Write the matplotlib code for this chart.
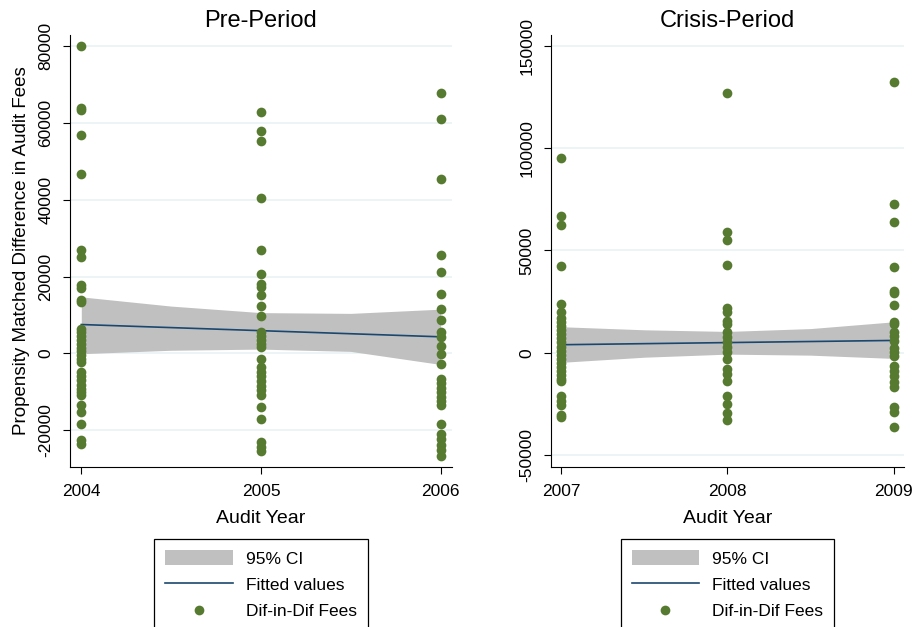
import matplotlib
matplotlib.use("Agg")
import matplotlib.pyplot as plt
from matplotlib.patches import Patch
from matplotlib.lines import Line2D

plt.rcParams['font.family'] = ['Liberation Sans', 'DejaVu Sans']

dot_color = '#567a2f'
line_color = '#1a476f'
ci_color = '#c0c0c0'
grid_color = '#eaf2f3'

# Pre-period (2004-2006), values
pre_2004 = [80000, 63800, 63300, 56900, 46800, 27000, 25000, 17700, 17100, 14000, 13400,
            6400, 5500, 4500, 3500, 2500, 1500, 500, -500, -1500, -2300,
            -4900, -6000, -7000, -8300, -9300, -10200, -10900,
            -13500, -15300, -18300, -22500, -23500]
pre_2005 = [62800, 58000, 55300, 40500, 27000, 20600, 18100, 17300, 15100, 12200, 9600,
            5600, 4500, 3500, 2500, 1600, -1400,
            -3600, -4800, -6000, -7200, -8400, -9600, -10900,
            -14000, -17200, -23100, -24500, -25400]
pre_2006 = [67900, 60900, 45300, 25500, 21200, 15500, 11500, 8800, 5600, 4300, 1900,
            -300, -2900, -6600, -7800, -9000, -10200, -11300, -12400, -13500,
            -18300, -20900, -22300, -23800, -25300, -26800]

pre_fit_x = [2004, 2006]
pre_fit_y = [7500, 4300]
pre_ci_x = [2004, 2004.5, 2005, 2005.5, 2006]
pre_ci_hi = [14700, 12300, 10600, 10400, 11500]
pre_ci_lo = [-100, 800, 1100, 500, -2900]

# Crisis period (2007-2009)
cri_2007 = [95400, 67100, 62700, 42400, 23700, 20000,
            17000, 15000, 13000, 11000, 9000, 7000, 5000, 3000, 1000,
            -1000, -3000, -5000, -7000, -9000, -11000, -13000, -14000,
            -21300, -23500, -25800, -30400, -31500]
cri_2008 = [126900, 59200, 54900, 42700, 22100, 20000, 15600, 14000, 9900, 7500, 5000,
            2600, 200, -3100, -8000, -10400, -13700, -21000, -25000, -29400, -32700]
cri_2009 = [132300, 72800, 63900, 42100, 30100, 29400, 23200, 15100, 14000, 9900, 8300,
            5900, 2100, 200, -1500, -6300, -8800, -11200, -14500, -16900,
            -26700, -29100, -36400]

cri_fit_x = [2007, 2009]
cri_fit_y = [3900, 6000]
cri_ci_x = [2007, 2007.5, 2008, 2008.5, 2009]
cri_ci_hi = [12700, 11200, 10400, 11800, 15100]
cri_ci_lo = [-4700, -2200, -700, -1200, -2800]

fig = plt.figure(figsize=(9.16, 6.27), dpi=100)
ax1 = fig.add_axes([0.0764, 0.2552, 0.417, 0.689])
ax2 = fig.add_axes([0.6015, 0.2552, 0.3854, 0.689])


def draw(ax, years, cols, fit_x, fit_y, ci_x, ci_hi, ci_lo, yticks, ylim, title):
    for t in yticks:
        ax.axhline(t, color=grid_color, lw=1.2, zorder=0)
    ax.fill_between(ci_x, ci_lo, ci_hi, color=ci_color, lw=0, zorder=1)
    ax.plot(fit_x, fit_y, color=line_color, lw=1.2, zorder=2)
    for yr, vals in zip(years, cols):
        ax.plot([yr] * len(vals), vals, 'o', color=dot_color, ms=7, mew=0, zorder=3)
    ax.set_xlim(years[0] - 0.063, years[-1] + 0.063)
    ax.set_ylim(*ylim)
    ax.set_xticks(years)
    ax.set_yticks(yticks)
    ax.set_yticklabels([str(t) for t in yticks], rotation=90, va='center')
    ax.tick_params(axis='x', labelsize=12.5, length=5, pad=7)
    ax.tick_params(axis='y', labelsize=12.5, length=5, pad=7)
    for s in ['top', 'right']:
        ax.spines[s].set_visible(False)
    ax.set_title(title, fontsize=17, pad=6)
    ax.set_xlabel('Audit Year', fontsize=14, labelpad=8)
    handles = [Patch(facecolor=ci_color, edgecolor='none'),
               Line2D([0], [0], color=line_color, lw=1.2),
               Line2D([0], [0], marker='o', color=dot_color, ls='none', ms=7, mew=0)]
    leg = ax.legend(handles, ['95% CI', 'Fitted values', 'Dif-in-Dif Fees'],
                    loc='upper center', bbox_to_anchor=(0.5, -0.167), fontsize=12.5,
                    frameon=True, fancybox=False, edgecolor='black', framealpha=1,
                    handlelength=3.9, handleheight=1.0, handletextpad=0.75,
                    labelspacing=0.56, borderpad=0.62, borderaxespad=0)
    leg.get_frame().set_linewidth(0.9)


draw(ax1, [2004, 2005, 2006], [pre_2004, pre_2005, pre_2006], pre_fit_x, pre_fit_y,
     pre_ci_x, pre_ci_hi, pre_ci_lo, [-20000, 0, 20000, 40000, 60000, 80000],
     (-29600, 82900), 'Pre-Period')
draw(ax2, [2007, 2008, 2009], [cri_2007, cri_2008, cri_2009], cri_fit_x, cri_fit_y,
     cri_ci_x, cri_ci_hi, cri_ci_lo, [-50000, 0, 50000, 100000, 150000],
     (-55900, 155400), 'Crisis-Period')
ax1.set_ylabel('Propensity Matched Difference in Audit Fees', fontsize=13.5, labelpad=6)

fig.savefig('out.png', dpi=100)
